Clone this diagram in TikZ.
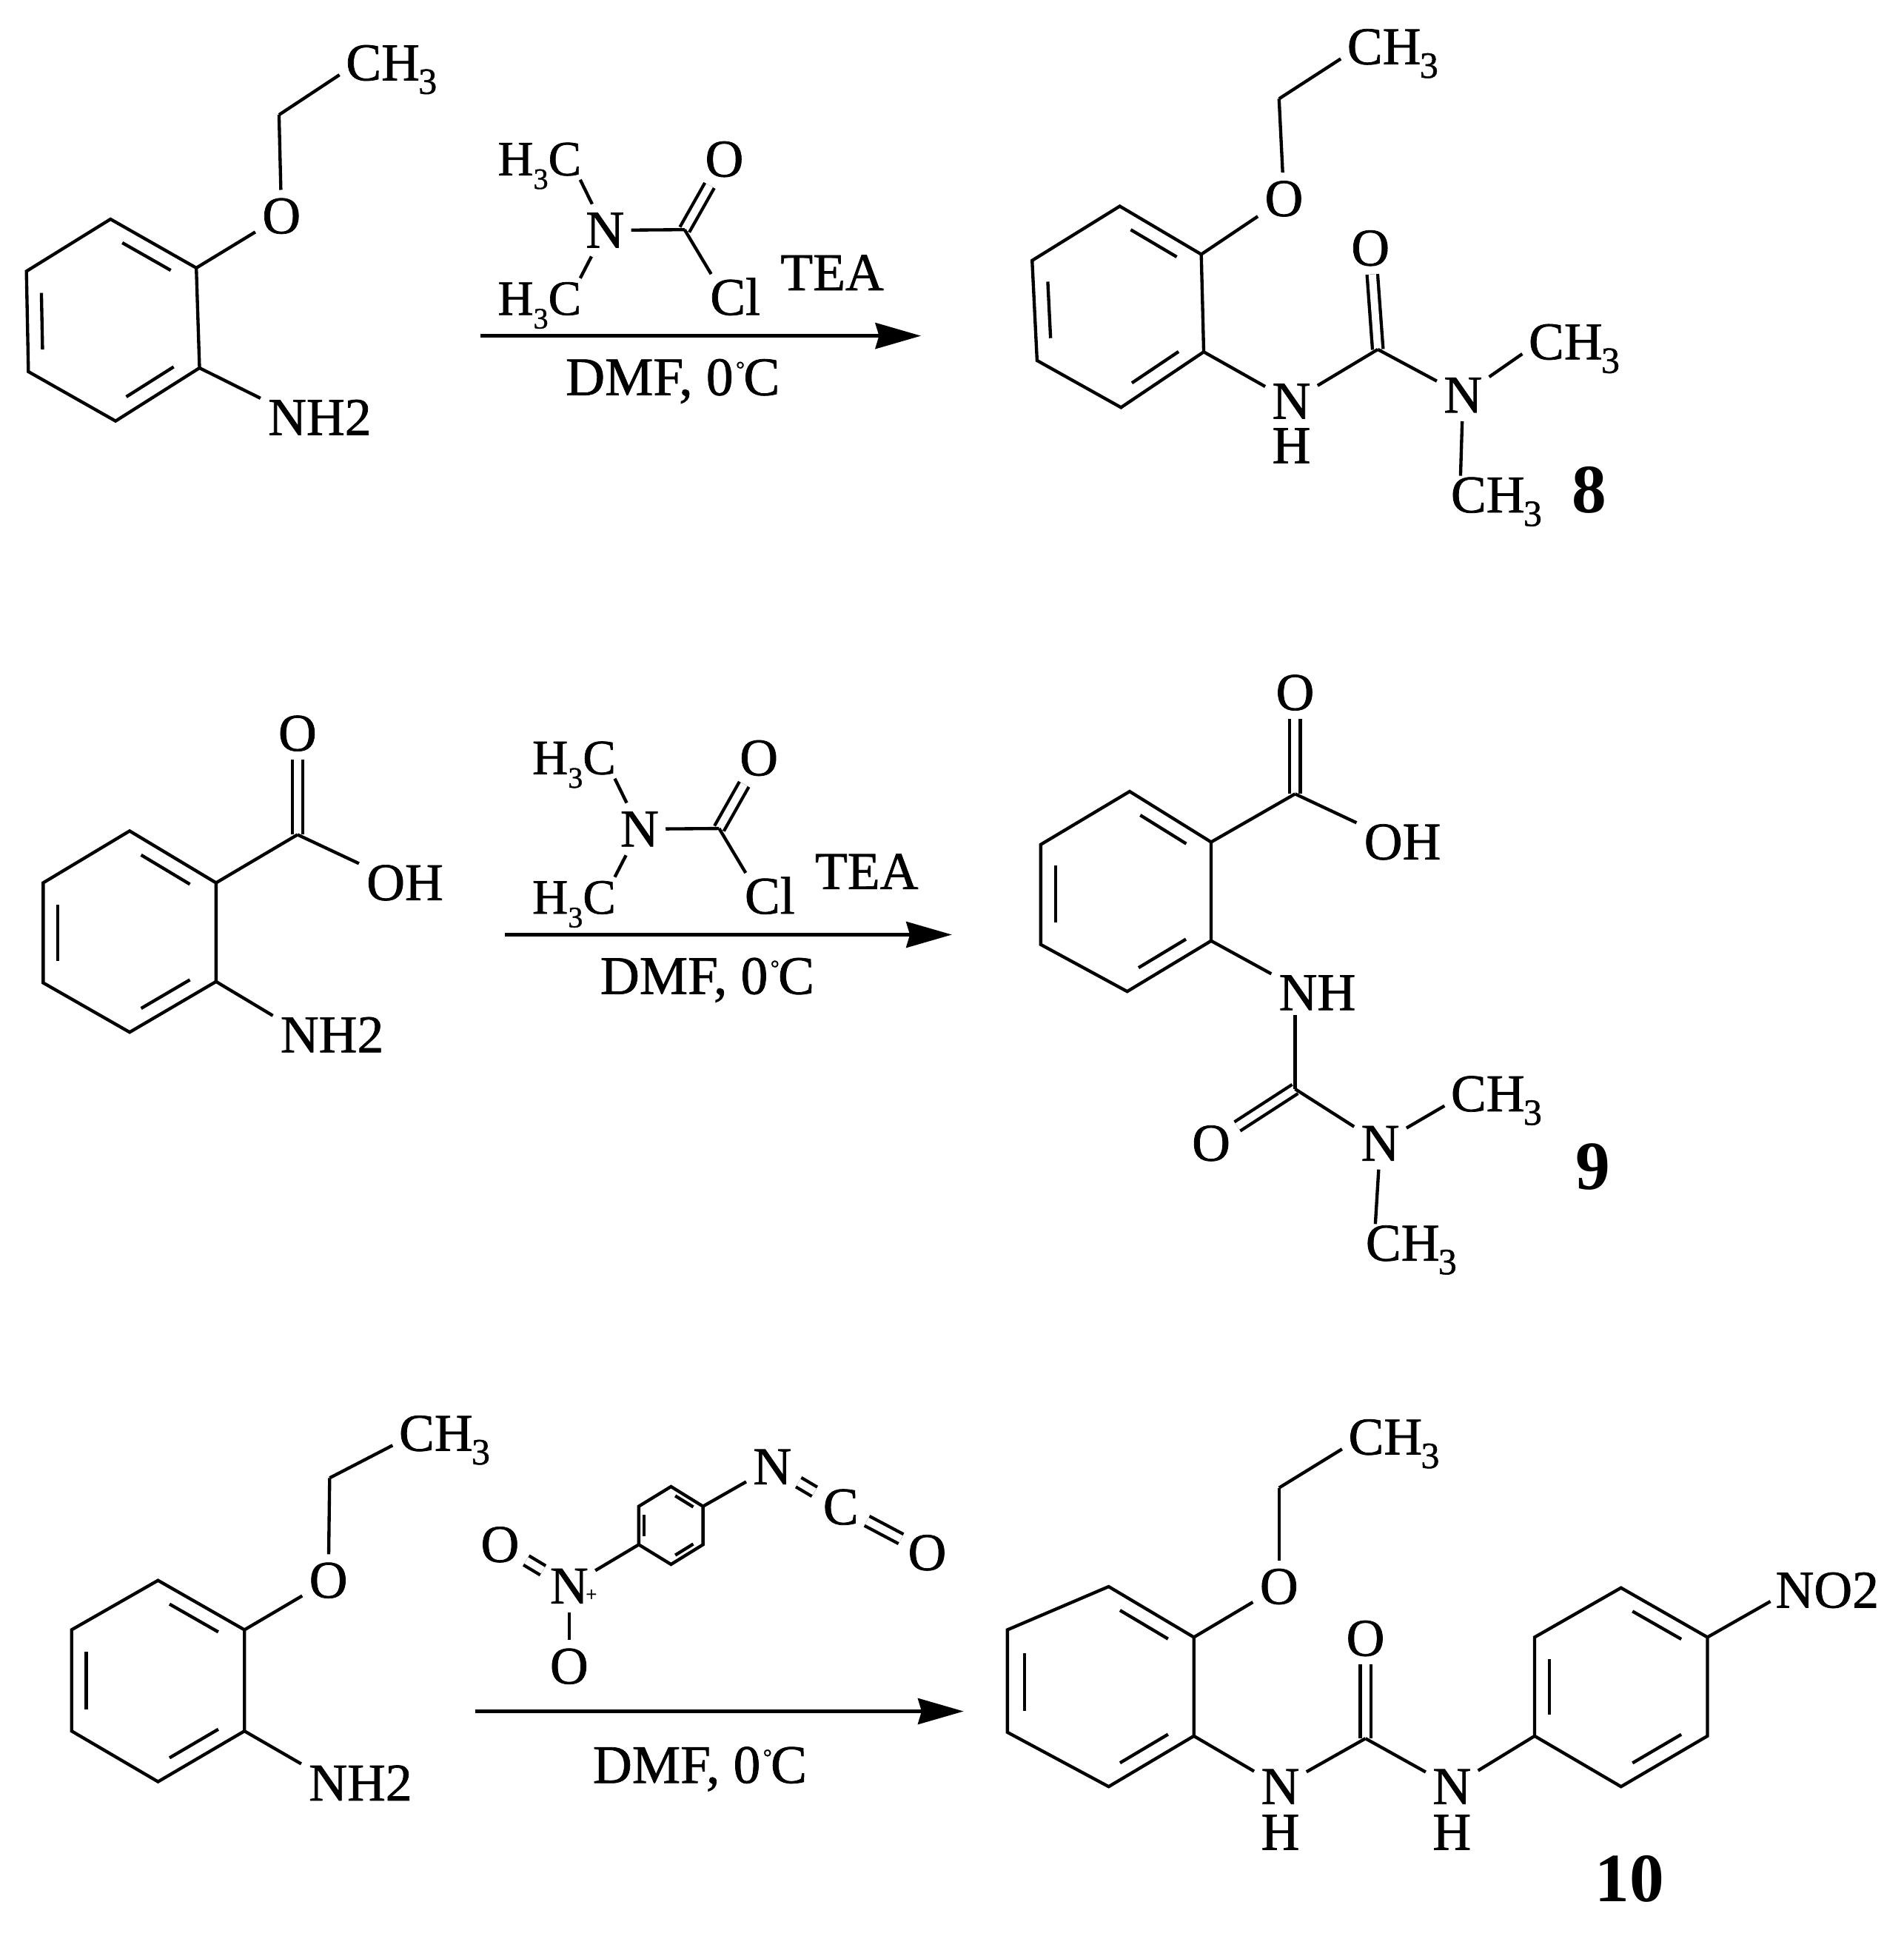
\documentclass[tikz,border=0pt]{standalone}
\usepackage{fontspec}
\setmainfont[FakeBold=1]{Liberation Serif}
\newfontfamily\numfont{Liberation Serif Bold}
\usetikzlibrary{calc,arrows.meta}
\newcommand{\subn}[2][30]{\smash{\raisebox{-11pt}{\fontsize{#1}{#1}\selectfont #2}}}
\newcommand{\CHthree}{CH\kern-1pt\subn{3}}
\newcommand{\HthreeC}{{\fontsize{40}{40}\selectfont H\subn[24]{3}C}}
\newcommand{\dmftext}{DMF, 0\kern2pt\raisebox{15pt}{\fontsize{18}{18}\selectfont °}\kern-1pt C}
\tikzset{
  bond/.style={line width=2.6pt,line cap=butt},
  dbl/.style={line width=2.6pt,double,double distance=6pt},
  atom/.style={font=\fontsize{43}{43}\selectfont,inner sep=0pt,minimum width=42pt,minimum height=42pt},
  lab/.style={font=\fontsize{43}{43}\selectfont,inner sep=0pt},
  grp/.style={font=\fontsize{43}{43}\selectfont,inner sep=4pt},
  basegrp/.style={grp,anchor=base west,xshift=-4pt},
  dmf/.style={basegrp,font=\fontsize{44}{44}\selectfont},
  cmpd/.style={font=\fontsize{56}{56}\selectfont\numfont,inner sep=0pt},
  chg/.style={font=\fontsize{16}{16}\selectfont,inner sep=0pt},
  rxn/.style={line width=2.6pt,-{Stealth[length=37pt,width=21pt,inset=3pt]}}
}
% name, then six vertices clockwise from the top
\newcommand{\bzring}[7]{%
  \coordinate (#1a) at #2; \coordinate (#1b) at #3; \coordinate (#1c) at #4;
  \coordinate (#1d) at #5; \coordinate (#1e) at #6; \coordinate (#1f) at #7;
  \coordinate (#1o) at ($(#1a)!.5!(#1d)$);
  \draw[bond,line join=miter] (#1a) -- (#1b) -- (#1c) -- (#1d) -- (#1e) -- (#1f) -- cycle;
  \draw[bond] ($($(#1a)!.16!(#1b)$)!.17!(#1o)$) -- ($($(#1a)!.84!(#1b)$)!.17!(#1o)$);
  \draw[bond] ($($(#1c)!.16!(#1d)$)!.17!(#1o)$) -- ($($(#1c)!.84!(#1d)$)!.17!(#1o)$);
  \draw[bond] ($($(#1e)!.16!(#1f)$)!.17!(#1o)$) -- ($($(#1e)!.84!(#1f)$)!.17!(#1o)$);
}
% dimethylcarbamoyl chloride reagent with TEA, prefix #1
\newcommand{\carbamoyl}[1]{%
  \node[basegrp] (#1me1) at (403,142) {\HthreeC};
  \node[basegrp] (#1me2) at (403,255) {\HthreeC};
  \node[atom] (#1n) at (490,186.5) {N};
  \coordinate (#1car) at (554.5,186);
  \node[atom] (#1ox) at (586.7,129) {O};
  \node[basegrp] (#1cl) at (575,255) {Cl};
  \node[basegrp] (#1tea) at (632,235) {TEA};
  \draw[dbl] (#1car) -- (#1ox);
  \draw[bond] (#1n) -- ([xshift=-5pt,yshift=1pt]#1me1.south east);
  \draw[bond] (#1n) -- ([xshift=-5pt,yshift=-1pt]#1me2.north east);
  \draw[bond] (#1n) -- (#1car);
  \draw[bond] (#1car) -- ([xshift=5pt,yshift=-1pt]#1cl.north west);
}
\begin{document}
\begin{tikzpicture}[x=1pt,y=-1pt]
\useasboundingbox (0,0) rectangle (1542,1568);
\fill[white] (0,0) rectangle (1542,1568);

% ---------- row 1: reactant
\bzring{A}{(89.5,177.5)}{(159,217)}{(161.6,298)}{(93.6,341)}{(23,301)}{(21.4,219.7)}
\node[atom] (Aox) at (228,175) {O};
\coordinate (Ach) at (226,93);
\node[basegrp] (Ame) at (280,65) {\CHthree};
\node[grp] (Anh) at (259,338) {NH2};
\draw[bond] (Ab) -- (Aox);
\draw[bond] (Aox) -- (Ach);
\draw[bond] (Ach) -- ([xshift=-1pt,yshift=9pt]Ame.south west);
\draw[bond] (Ac) -- ([xshift=-2pt,yshift=-3pt]Anh.north west);

% ---------- row 1: reagent, arrow
\carbamoyl{P}
\coordinate (Ps) at (389,272); \coordinate (Pe) at (746,272);
\draw[rxn] (Ps) -- (Pe);
\node[dmf] (Pdmf) at (458,320) {\dmftext};

% ---------- row 1: product 8
\bzring{B}{(907,167)}{(973,206)}{(975,285)}{(908,330)}{(840,292)}{(836,211)}
\node[atom] (Box) at (1040,161) {O};
\coordinate (Bch) at (1036,80);
\node[basegrp] (Bme) at (1091,52) {\CHthree};
\node[atom] (Bn1) at (1046,325) {N};
\node[lab] (Bh1) at (1046,361) {H};
\coordinate (Bur) at (1116,283);
\node[atom] (Bo2) at (1110,201) {O};
\node[atom] (Bn2) at (1185,320) {N};
\node[basegrp] (Bm1) at (1238,291) {\CHthree};
\node[basegrp] (Bm2) at (1175,415) {\CHthree};
\node[cmpd] (B8) at (1287,397) {8};
\draw[dbl] (Bur) -- (Bo2);
\draw[bond] (Bb) -- (Box);
\draw[bond] (Box) -- (Bch);
\draw[bond] (Bch) -- ([xshift=-1pt,yshift=9pt]Bme.south west);
\draw[bond] (Bc) -- (Bn1);
\draw[bond] (Bn1) -- (Bur);
\draw[bond] (Bur) -- (Bn2);
\draw[bond] (Bn2) -- ([xshift=-1pt,yshift=9pt]Bm1.south west);
\draw[bond] (Bn2) -- ([xshift=12pt,yshift=-3pt]Bm2.north west);

% ---------- row 2: reactant
\bzring{C}{(105,673)}{(175,715)}{(175,795)}{(105,836)}{(35,796)}{(35,715)}
\coordinate (Ccar) at (241,676);
\node[atom] (Cox) at (241,594) {O};
\node[grp] (Coh) at (328,715) {OH};
\node[grp] (Cnh) at (269,838) {NH2};
\draw[dbl] (Ccar) -- (Cox);
\draw[bond] (Cb) -- (Ccar);
\draw[bond] (Ccar) -- ([xshift=-2pt,yshift=-3pt]Coh.north west);
\draw[bond] (Cc) -- ([xshift=-2pt,yshift=-3pt]Cnh.north west);

% ---------- row 2: reagent, arrow
\begin{scope}[shift={(28,485)}]
\carbamoyl{Q}
\end{scope}
\coordinate (Qs) at (409,757); \coordinate (Qe) at (771,757);
\draw[rxn] (Qs) -- (Qe);
\node[dmf] (Qdmf) at (486,805) {\dmftext};

% ---------- row 2: product 9
\bzring{D}{(915,641)}{(981,682)}{(981,762)}{(913,803)}{(843,765)}{(843,684)}
\coordinate (Dcar) at (1049,643);
\node[atom] (Dox) at (1049,561) {O};
\node[grp] (Doh) at (1136,682) {OH};
\node[grp] (Dnh) at (1067,804) {NH};
\coordinate (Dur) at (1049,882);
\node[atom] (Do2) at (981,926) {O};
\node[atom] (Dn2) at (1118,926) {N};
\node[basegrp] (Dm1) at (1175,900) {\CHthree};
\node[basegrp] (Dm2) at (1106,1021) {\CHthree};
\node[cmpd] (D9) at (1290,945) {9};
\draw[dbl] (Dcar) -- (Dox);
\draw[dbl] (Dur) -- (Do2);
\draw[bond] (Db) -- (Dcar);
\draw[bond] (Dcar) -- ([xshift=-2pt,yshift=-3pt]Doh.north west);
\draw[bond] (Dc) -- ([xshift=-2pt,yshift=-3pt]Dnh.north west);
\draw[bond] ([xshift=-18pt]Dnh.south) -- (Dur);
\draw[bond] (Dur) -- (Dn2);
\draw[bond] (Dn2) -- ([xshift=-1pt,yshift=9pt]Dm1.south west);
\draw[bond] (Dn2) -- ([xshift=12pt,yshift=-3pt]Dm2.north west);

% ---------- row 3: reactant
\bzring{E}{(128,1280)}{(198,1320)}{(198,1402)}{(128,1443)}{(58,1402)}{(58,1320)}
\node[atom] (Eox) at (266,1280) {O};
\coordinate (Ech) at (267,1197);
\node[basegrp] (Eme) at (323,1175) {\CHthree};
\node[grp] (Enh) at (292,1444) {NH2};
\draw[bond] (Eb) -- (Eox);
\draw[bond] (Eox) -- (Ech);
\draw[bond] (Ech) -- ([xshift=-1pt,yshift=9pt]Eme.south west);
\draw[bond] (Ec) -- ([xshift=-2pt,yshift=-3pt]Enh.north west);

% ---------- row 3: reagent, arrow
\bzring{R}{(543.5,1204)}{(569.4,1220)}{(569.4,1251)}{(543.5,1267)}{(517.4,1251)}{(517.4,1220)}
\node[atom] (Rn1) at (625.6,1188) {N};
\node[atom] (Rcc) at (681,1220.6) {C};
\node[atom] (Rox) at (751,1257.6) {O};
\node[atom] (Rn2) at (461,1284.6) {N};
\node[chg] (Rplus) at (479,1292) {+};
\node[atom] (Ro1) at (405,1251) {O};
\node[atom] (Ro2) at (461,1349.6) {O};
\draw[bond] (Rb) -- (Rn1);
\draw[dbl] (Rn1) -- (Rcc);
\draw[dbl] (Rcc) -- (Rox);
\draw[bond] (Re) -- (Rn2);
\draw[dbl] (Rn2) -- (Ro1);
\draw[bond] (Rn2) -- (Ro2);
\coordinate (Rs) at (384.7,1386); \coordinate (Re2) at (780.5,1386);
\draw[rxn] (Rs) -- (Re2);
\node[dmf] (Rdmf) at (480,1444) {\dmftext};

% ---------- row 3: product 10
\bzring{F}{(898,1285)}{(967,1326)}{(967,1406)}{(898,1447)}{(816,1403)}{(816,1320)}
\node[atom] (Fox) at (1036,1285) {O};
\coordinate (Fch) at (1036,1205);
\node[basegrp] (Fme) at (1092,1178) {\CHthree};
\node[atom] (Fn1) at (1037,1447) {N};
\node[lab] (Fh1) at (1037,1484) {H};
\coordinate (Fur) at (1106,1408);
\node[atom] (Fo2) at (1106,1327) {O};
\node[atom] (Fn2) at (1176,1447) {N};
\node[lab] (Fh2) at (1176,1484) {H};
\bzring{G}{(1313,1286)}{(1383,1326)}{(1383,1406)}{(1313,1447)}{(1243,1406)}{(1243,1326)}
\node[grp] (Gno) at (1480,1288) {NO2};
\node[cmpd] (G10) at (1320,1522) {10};
\draw[dbl] (Fur) -- (Fo2);
\draw[bond] (Fb) -- (Fox);
\draw[bond] (Fox) -- (Fch);
\draw[bond] (Fch) -- ([xshift=-1pt,yshift=9pt]Fme.south west);
\draw[bond] (Fc) -- (Fn1);
\draw[bond] (Fn1) -- (Fur);
\draw[bond] (Fur) -- (Fn2);
\draw[bond] (Fn2) -- (Ge);
\draw[bond] (Gb) -- ([yshift=-9pt]Gno.west);
\end{tikzpicture}
\end{document}
